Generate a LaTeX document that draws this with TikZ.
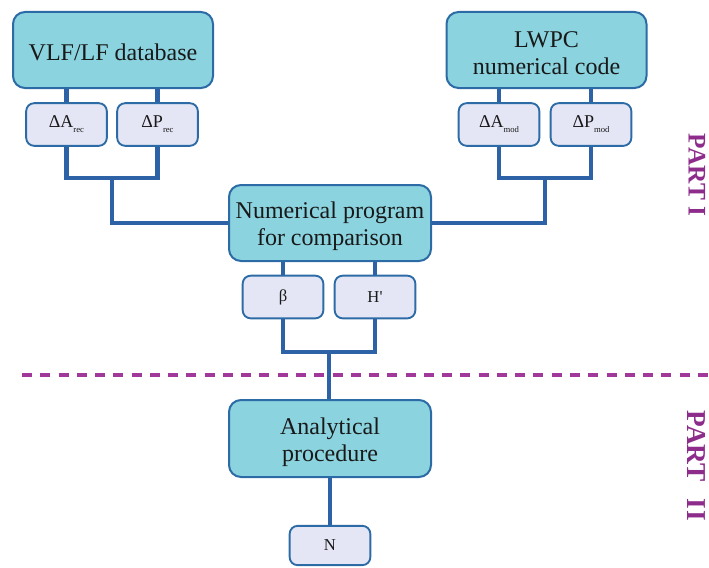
\documentclass[tikz,border=0pt]{standalone}
\usepackage{fontspec}
\setmainfont{Liberation Serif}
\newfontface\plainquote{Liberation Serif}[Ligatures=TeXOff]
\definecolor{boxfill}{HTML}{8AD3DF}
\definecolor{boxline}{HTML}{2C6BA6}
\definecolor{tagfill}{HTML}{E4E6F5}
\definecolor{wire}{HTML}{2D62A6}
\definecolor{partline}{HTML}{A0399A}
\definecolor{parttext}{HTML}{8E2C8C}
\newcommand{\sbs}[1]{\raisebox{-0.6ex}{\fontsize{6.5}{6.5}\selectfont #1}}
\begin{document}
\begin{tikzpicture}[x=0.75pt,y=-0.75pt,
  bigbox/.style={draw=boxline, line width=1.5pt, fill=boxfill, rounded corners=9pt,
    minimum width=150pt, minimum height=57pt, inner sep=0pt},
  bigtext/.style={align=center, inner sep=0pt,
    font=\fontsize{18}{20.5}\selectfont, text=black!90},
  tagbox/.style={draw=boxline, line width=1.4pt, fill=tagfill, rounded corners=6pt,
    minimum width=60.5pt, minimum height=32pt, inner sep=0pt,
    font=\fontsize{13.5}{15}\selectfont, text=black!90},
  smalltag/.style={tagbox, font=\fontsize{12.5}{14}\selectfont},
  link/.style={draw=wire, line width=3.2pt},
  parttag/.style={text=parttext, font=\bfseries, rotate=-90}]
\useasboundingbox (0,0) rectangle (709,567);

% main blocks, with their captions set slightly below centre
\node[bigbox] (db) at (113,50) {};
\node[bigtext] (db-t) at ([yshift=-1.5pt]db.center) {VLF/LF database};
\node[bigbox] (lwpc) at (546.5,50) {};
\node[bigtext] (lwpc-t) at ([yshift=-2.25pt]lwpc.center) {LWPC\\numerical code};
\node[bigbox, minimum width=151.5pt] (num) at (330,223) {};
\node[bigtext] (num-t) at ([yshift=-2.25pt]num.center) {Numerical program\\for comparison};
\node[bigbox, minimum width=151.5pt, minimum height=57.75pt] (ana) at (330,438.5) {};
\node[bigtext] (ana-t) at ([yshift=-3pt]ana.center) {Analytical\\procedure};

% parameter tags
\node[tagbox] (arec) at (66.5,124.5) {ΔA\sbs{rec}};
\node[tagbox] (prec) at (157.5,124.5) {ΔP\sbs{rec}};
\node[tagbox] (amod) at (499,124.5) {ΔA\sbs{mod}};
\node[tagbox] (pmod) at (591,124.5) {ΔP\sbs{mod}};
\node[smalltag] (beta) at (283,297) {β};
\node[smalltag] (hp) at (375,297) {H{\plainquote '}};
\node[smalltag, minimum height=29.5pt] (nn) at (330,545.5) {N};

% split between the two parts
\coordinate (dl) at (22,375);
\coordinate (dr) at (712,375);
\draw[partline, line width=3.6pt, dash pattern=on 7.5pt off 6.2pt] (dl) -- (dr);

% junction points
\coordinate (jl) at (112,178);
\coordinate (jr) at (545,178);
\coordinate (jb) at (329,352);

% connectors
\draw[link] (arec.north) -- (arec.north |- db.south);
\draw[link] (prec.north) -- (prec.north |- db.south);
\draw[link] (amod.north) -- (amod.north |- lwpc.south);
\draw[link] (pmod.north) -- (pmod.north |- lwpc.south);
\draw[link] (arec.south) |- (jl) -| (prec.south);
\draw[link] (jl) |- (num.west);
\draw[link] (amod.south) |- (jr) -| (pmod.south);
\draw[link] (jr) |- (num.east);
\draw[link] (beta.north) -- (beta.north |- num.south);
\draw[link] (hp.north) -- (hp.north |- num.south);
\draw[link] (beta.south) |- (jb) -| (hp.south);
\draw[link] (jb) -- (jb |- ana.north);
\draw[link] (ana.south) -- (nn.north);

% part labels
\node[parttag, font=\fontsize{19}{20}\selectfont\bfseries] (p1) at (697,175) {PART I};
\node[parttag, font=\fontsize{20.5}{21}\selectfont\bfseries] (p2) at (697,466)
  {PART\hspace{0.6em}I\hspace{0.08em}I};
\end{tikzpicture}
\end{document}
